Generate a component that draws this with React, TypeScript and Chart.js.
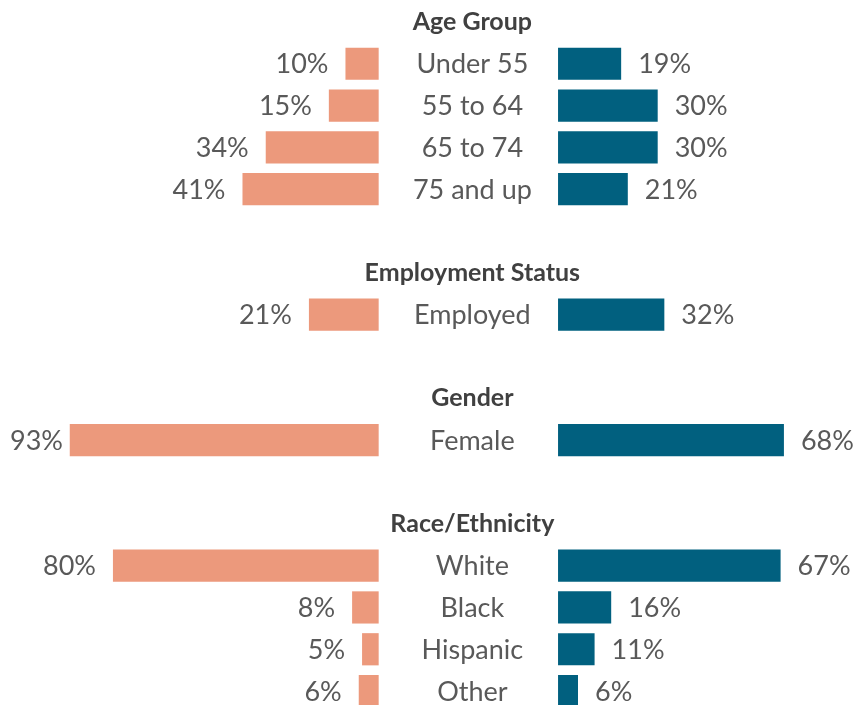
import React, { useEffect, useRef } from "react";
import { Chart, registerables } from "chart.js";

Chart.register(...registerables);

const groupTitles = ["Age Group", "Employment Status", "Gender", "Race/Ethnicity"];
const groupSizes = [4, 1, 1, 4];
const categories = [
  "Under 55", "55 to 64", "65 to 74", "75 and up",
  "Employed",
  "Female",
  "White", "Black", "Hispanic", "Other",
];
const leftValues = [10, 15, 34, 41, 21, 93, 80, 8, 5, 6];
const rightValues = [19, 30, 30, 21, 32, 68, 67, 16, 11, 6];

const LEFT_COLOR = "#EC997C";
const RIGHT_COLOR = "#01607F";
const TEXT_COLOR = "#595959";
const HEAD_COLOR = "#404040";
const GAP = 27;
const FONT = "Lato";

type Row = { kind: "header" | "item" | "blank"; label: string; idx: number };

function buildRows(): Row[] {
  const rows: Row[] = [];
  let k = 0;
  groupTitles.forEach((t, g) => {
    if (g > 0) rows.push({ kind: "blank", label: "", idx: -1 });
    rows.push({ kind: "header", label: t, idx: -1 });
    for (let j = 0; j < groupSizes[g]; j++) {
      rows.push({ kind: "item", label: categories[k], idx: k });
      k++;
    }
  });
  return rows;
}

export default function App() {
  const ref = useRef<HTMLCanvasElement | null>(null);
  useEffect(() => {
    document.body.style.margin = "0";
    document.body.style.overflow = "hidden";
    document.documentElement.style.overflow = "hidden";
    const rows = buildRows();
    const textPlugin = {
      id: "butterflyText",
      afterDatasetsDraw(chart: any) {
        const ctx = chart.ctx;
        const xs = chart.scales.x;
        const ys = chart.scales.y;
        const mid = (xs.getPixelForValue(-GAP) + xs.getPixelForValue(GAP)) / 2 + 4;
        ctx.save();
        ctx.textBaseline = "middle";
        rows.forEach((r, i) => {
          const y = ys.getPixelForValue(i);
          if (r.kind === "header") {
            ctx.font = `bold 25px ${FONT}`;
            ctx.fillStyle = HEAD_COLOR;
            ctx.textAlign = "center";
            ctx.fillText(r.label, mid, y);
          } else if (r.kind === "item") {
            ctx.font = `27px ${FONT}`;
            ctx.fillStyle = TEXT_COLOR;
            ctx.textAlign = "center";
            ctx.fillText(r.label, mid, y + 1);
            const lv = leftValues[r.idx];
            const rv = rightValues[r.idx];
            const lt = `${lv}%`;
            const rt = `${rv}%`;
            const lw = ctx.measureText(lt).width;
            let lx = xs.getPixelForValue(-GAP - lv) - 17;
            if (lx - lw < 10) lx = 10 + lw;
            ctx.textAlign = "right";
            ctx.fillText(lt, lx, y + 1);
            ctx.textAlign = "left";
            ctx.fillText(rt, xs.getPixelForValue(GAP + rv) + 17, y + 1);
          }
        });
        ctx.restore();
      },
    };
    const chart = new Chart(ref.current as HTMLCanvasElement, {
      type: "bar",
      data: {
        labels: rows.map((r) => r.label),
        datasets: [
          {
            label: "Left",
            data: rows.map((r) => (r.kind === "item" ? [-GAP - leftValues[r.idx], -GAP] : null)) as any,
            backgroundColor: LEFT_COLOR,
            barPercentage: 0.77,
            categoryPercentage: 1,
            grouped: false,
          },
          {
            label: "Right",
            data: rows.map((r) => (r.kind === "item" ? [GAP, GAP + rightValues[r.idx]] : null)) as any,
            backgroundColor: RIGHT_COLOR,
            barPercentage: 0.77,
            categoryPercentage: 1,
            grouped: false,
          },
        ],
      },
      options: {
        indexAxis: "y",
        animation: false,
        responsive: true,
        maintainAspectRatio: false,
        layout: { padding: { top: 1, bottom: 0, left: 0, right: 0 } },
        plugins: { legend: { display: false }, tooltip: { enabled: false } },
        scales: {
          x: { type: "linear", min: -141, max: 117, display: false },
          y: { type: "category", display: false, offset: true },
        },
      },
      plugins: [textPlugin],
    });
    return () => chart.destroy();
  }, []);
  return (
    <div style={{ position: "relative", width: 857, height: 712 }}>
      <canvas ref={ref} />
    </div>
  );
}
